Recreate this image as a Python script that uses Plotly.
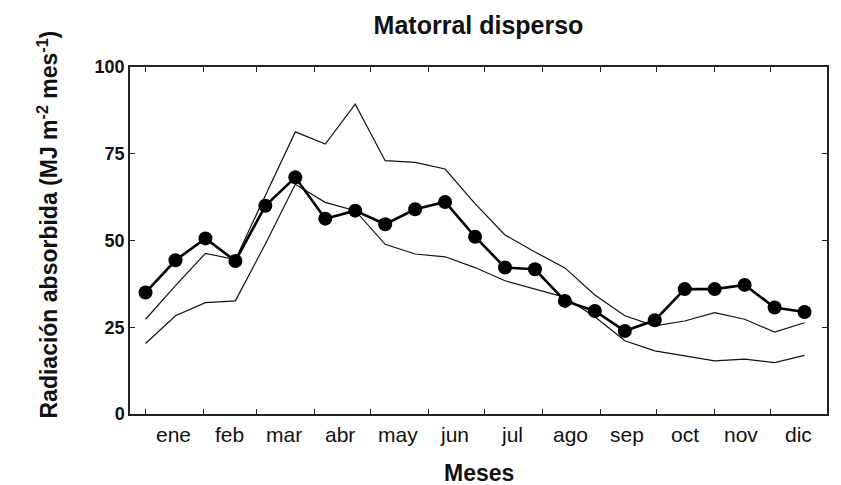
import plotly.graph_objects as go

# Day of year for each 16-day period
days = [1, 17, 33, 49, 65, 81, 97, 113, 129, 145, 161, 177, 193, 209, 225, 241, 257, 273, 289, 305, 321, 337, 353]

radiacion = [35.0, 44.3, 50.6, 44.1, 60.0, 68.2, 56.3, 58.6, 54.7, 59.0, 61.1, 51.1,
             42.2, 41.7, 32.6, 29.7, 23.9, 27.0, 36.0, 36.0, 37.2, 30.7, 29.4]
superior = [27.3, 37.0, 46.3, 44.5, 63.0, 81.3, 77.8, 89.3, 73.0, 72.5, 70.6, 60.6,
            51.6, 46.7, 42.1, 34.3, 28.3, 25.4, 26.8, 29.2, 27.3, 23.6, 26.3]
inferior = [20.3, 28.3, 32.1, 32.6, 49.0, 66.2, 61.0, 58.6, 48.9, 46.1, 45.3, 42.2,
            38.4, 36.0, 33.6, 28.0, 21.1, 18.2, 16.7, 15.3, 15.8, 14.8, 16.9]

month_starts = [1, 32, 60, 91, 121, 152, 182, 213, 244, 274, 305, 335]
month_mid = [16, 46, 75, 105, 136, 166, 197, 228, 258, 289, 319, 350]
month_labels = ["ene", "feb", "mar", "abr", "may", "jun", "jul", "ago", "sep", "oct", "nov", "dic"]
y_ticks = [0, 25, 50, 75, 100]

FONT = "Liberation Sans, Arial, sans-serif"

fig = go.Figure()
fig.add_trace(go.Scatter(x=days, y=superior, mode="lines",
                         line=dict(color="#111111", width=1.2), showlegend=False))
fig.add_trace(go.Scatter(x=days, y=inferior, mode="lines",
                         line=dict(color="#111111", width=1.2), showlegend=False))
fig.add_trace(go.Scatter(x=days, y=radiacion, mode="lines+markers",
                         line=dict(color="#000000", width=2.6),
                         marker=dict(color="#000000", size=14), showlegend=False))

for d, lab in zip(month_mid, month_labels):
    fig.add_annotation(x=d, y=0, xref="x", yref="paper", text=lab, showarrow=False,
                       yanchor="middle", yshift=-20,
                       font=dict(family=FONT, size=21, color="#111111"))

fig.add_annotation(x=0.5, y=0, xref="paper", yref="paper", text="<b>Meses</b>",
                   showarrow=False, yanchor="middle", yshift=-59,
                   font=dict(family=FONT, size=23, color="#111111"))

fig.add_annotation(x=0, y=0.5, xref="paper", yref="paper",
                   text="<b>Radiación absorbida (MJ m<sup>-2</sup> mes<sup>-1</sup>)</b>",
                   showarrow=False, textangle=-90, xanchor="center", yanchor="middle",
                   xshift=-83, yshift=16,
                   font=dict(family=FONT, size=23, color="#111111"))

fig.update_layout(
    width=841, height=485,
    margin=dict(l=130, r=14, t=67, b=71),
    paper_bgcolor="white", plot_bgcolor="white",
    title=dict(text="<b>Matorral disperso</b>", x=0.5, xref="paper", xanchor="center",
               y=1 - 25 / 485, yref="container", yanchor="middle",
               font=dict(family=FONT, size=25, color="#111111")),
    xaxis=dict(range=[-7.3, 365], tickvals=month_starts, showticklabels=False,
               ticks="inside", ticklen=5, tickwidth=1, tickcolor="#222222",
               showline=True, linecolor="#222222", linewidth=1.5, mirror="ticks",
               showgrid=False, zeroline=False),
    yaxis=dict(range=[0, 100], tickvals=y_ticks, ticktext=[f"<b>{v}</b>" for v in y_ticks],
               ticks="inside", ticklen=5, tickwidth=1, tickcolor="#222222",
               showline=True, linecolor="#222222", linewidth=1.5, mirror="ticks",
               showgrid=False, zeroline=False,
               tickfont=dict(family=FONT, size=18, color="#111111")),
)

fig.write_html("out.html")
